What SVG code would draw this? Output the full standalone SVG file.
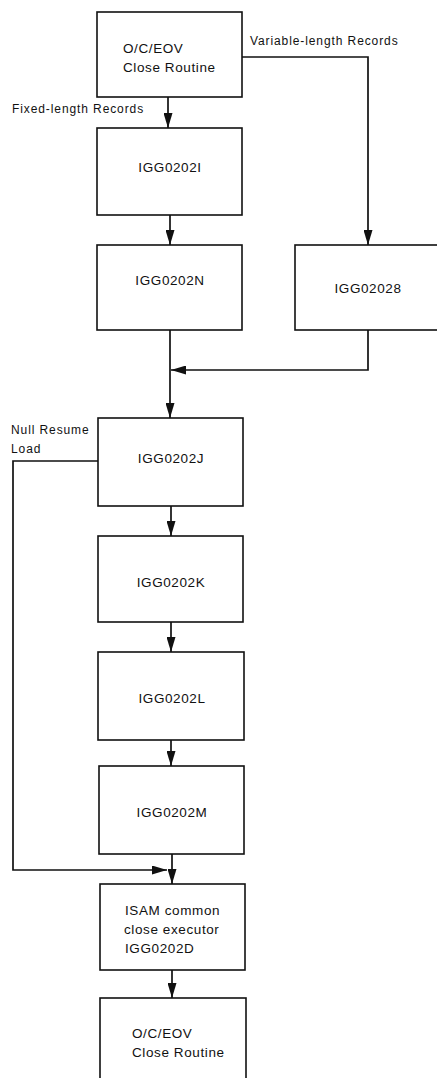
<svg xmlns="http://www.w3.org/2000/svg" width="437" height="1078" viewBox="0 0 437 1078">
  <style>
    .box { fill: #ffffff; stroke: #111111; stroke-width: 1.6; }
    .wire { fill: none; stroke: #111111; stroke-width: 1.7; }
    .t { font-family: "Liberation Sans", Arial, sans-serif; font-size: 13.5px; fill: #111111; letter-spacing: 0.6px; }
    .c { text-anchor: middle; }
    .lbl { font-family: "Liberation Sans", Arial, sans-serif; font-size: 12px; fill: #111111; letter-spacing: 0.9px; }
  </style>
  <defs>
    <marker id="arrow" viewBox="0 0 15 9" refX="15" refY="4.5" markerWidth="15" markerHeight="9" markerUnits="userSpaceOnUse" orient="auto">
      <path d="M0,0 L15,4.5 L0,9 Z" fill="#111111"/>
    </marker>
  </defs>
  <rect width="437" height="1078" fill="#ffffff"/>

  <!-- connectors -->
  <g id="connectors">
    <path class="wire" d="M168,97 V128" marker-end="url(#arrow)"/>
    <path class="wire" d="M170,215 V245" marker-end="url(#arrow)"/>
    <path class="wire" d="M242,57 H368 V245" marker-end="url(#arrow)"/>
    <path class="wire" d="M170,330 V418" marker-end="url(#arrow)"/>
    <path class="wire" d="M368,330 V370 H171" marker-end="url(#arrow)"/>
    <path class="wire" d="M171,506 V536" marker-end="url(#arrow)"/>
    <path class="wire" d="M171,622 V652" marker-end="url(#arrow)"/>
    <path class="wire" d="M171,740 V766" marker-end="url(#arrow)"/>
    <path class="wire" d="M172,854 V884" marker-end="url(#arrow)"/>
    <path class="wire" d="M98,461 H13 V870 H167" marker-end="url(#arrow)"/>
    <path class="wire" d="M172,970 V998" marker-end="url(#arrow)"/>
  </g>

  <!-- edge labels -->
  <text class="lbl" x="250" y="45">Variable-length Records</text>
  <text class="lbl" x="12" y="113">Fixed-length Records</text>
  <text class="lbl" x="11" y="434">Null Resume</text>
  <text class="lbl" x="11" y="453">Load</text>

  <g id="open-close-start">
    <rect class="box" x="97" y="12" width="145" height="85"/>
    <text class="t" x="123" y="53">O/C/EOV</text>
    <text class="t" x="123" y="72">Close Routine</text>
  </g>
  <g id="igg0202i">
    <rect class="box" x="97" y="128" width="145" height="87"/>
    <text class="t c" x="170" y="172">IGG0202I</text>
  </g>
  <g id="igg0202n">
    <rect class="box" x="97" y="245" width="145" height="85"/>
    <text class="t c" x="170" y="285">IGG0202N</text>
  </g>
  <g id="igg02028">
    <rect class="box" x="295" y="245" width="150" height="85"/>
    <text class="t c" x="368" y="293">IGG02028</text>
  </g>
  <g id="igg0202j">
    <rect class="box" x="98" y="418" width="145" height="88"/>
    <text class="t c" x="171" y="463">IGG0202J</text>
  </g>
  <g id="igg0202k">
    <rect class="box" x="98" y="536" width="145" height="86"/>
    <text class="t c" x="171" y="587">IGG0202K</text>
  </g>
  <g id="igg0202l">
    <rect class="box" x="98" y="652" width="146" height="88"/>
    <text class="t c" x="172" y="703">IGG0202L</text>
  </g>
  <g id="igg0202m">
    <rect class="box" x="99" y="766" width="145" height="88"/>
    <text class="t c" x="172" y="817">IGG0202M</text>
  </g>
  <g id="igg0202d">
    <rect class="box" x="100" y="884" width="145" height="86"/>
    <text class="t" x="125" y="915">ISAM common</text>
    <text class="t" x="124" y="934">close executor</text>
    <text class="t" x="125" y="953">IGG0202D</text>
  </g>
  <g id="open-close-end">
    <rect class="box" x="100" y="998" width="146" height="100"/>
    <text class="t" x="132" y="1038">O/C/EOV</text>
    <text class="t" x="132" y="1057">Close Routine</text>
  </g>
</svg>
